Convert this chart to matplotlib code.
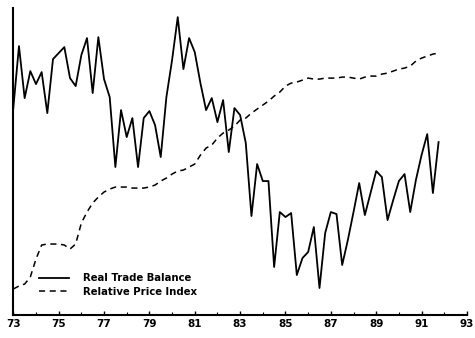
import matplotlib.pyplot as plt
import numpy as np
from matplotlib.ticker import MultipleLocator

# Quarterly observations, 1973Q1 - 1991Q4 (index units)
start_year = 73
trade_balance = [207, 269, 217, 244, 231, 243, 202, 256, 262, 268,
                 237, 229, 260, 277, 222, 278, 236, 218, 148, 205,
                 178, 197, 148, 197, 204, 190, 158, 218, 255, 298,
                 246, 277, 263, 232, 205, 217, 193, 215, 163, 207,
                 200, 172, 99, 151, 134, 134, 48, 103, 98, 102,
                 40, 57, 63, 88, 27, 82, 103, 101, 50, 75,
                 103, 132, 100, 122, 144, 138, 95, 115, 134, 141,
                 103, 135, 160, 181, 122, 173]
price_index = [26, 29, 31, 38, 56, 70, 71, 71, 71, 70,
               66, 71, 92, 103, 112, 118, 123, 126, 128, 128,
               128, 127, 127, 127, 128, 130, 134, 137, 141, 144,
               145, 148, 151, 160, 167, 170, 177, 182, 185, 189,
               195, 197, 202, 206, 210, 214, 219, 223, 229, 232,
               233, 235, 237, 236, 236, 237, 237, 237, 238, 238,
               237, 236, 238, 239, 239, 241, 242, 244, 246, 247,
               249, 254, 257, 259, 261, 262]
year_ticks = list(range(73, 94, 2))

quarters = start_year + 0.25 * np.arange(len(trade_balance))

plt.rcParams['font.family'] = 'DejaVu Sans'
fig = plt.figure(figsize=(4.75, 3.38), dpi=100)
ax = fig.add_axes([0.028, 0.068, 0.955, 0.908])

ax.plot(quarters, trade_balance, color='black', lw=1.3, label='Real Trade Balance')
ax.plot(quarters, price_index, color='black', lw=1.1, dashes=(4, 3),
        label='Relative Price Index')

ax.set_xlim(73, 93)
ax.set_ylim(0, 307)
ax.set_xticks(year_ticks)
ax.set_xticklabels([str(y) for y in year_ticks], fontweight='bold')
ax.xaxis.set_minor_locator(MultipleLocator(1))
ax.tick_params(axis='x', which='major', direction='in', length=3, width=1,
               pad=3, labelsize=7.5)
ax.tick_params(axis='x', which='minor', direction='in', length=2, width=0.8)
ax.set_yticks([])

for side in ['top', 'right']:
    ax.spines[side].set_visible(False)
for side in ['left', 'bottom']:
    ax.spines[side].set_linewidth(1.5)

leg = ax.legend(loc='lower left', bbox_to_anchor=(0.045, 0.043), frameon=False,
                prop={'size': 7.3, 'weight': 'bold'}, handlelength=3.0,
                handletextpad=1.4, labelspacing=0.35, borderpad=0)

fig.savefig('out.png', dpi=100)
